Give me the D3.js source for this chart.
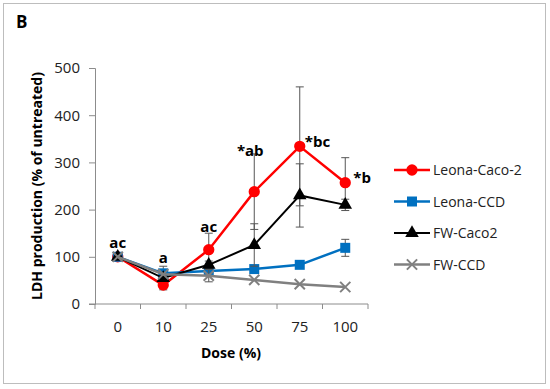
<!DOCTYPE html>
<html>
<head>
<meta charset="utf-8">
<script src="https://cdn.jsdelivr.net/npm/d3@7"></script>
<style>
  body { margin: 0; background: #fff; }
  text { font-family: "Open Sans", sans-serif; }
</style>
</head>
<body>
<svg width="550" height="389"></svg>
<script>
// categories and values
var doses = ['0', '10', '25', '50', '75', '100'];
var seriesNames = ['Leona-Caco-2', 'Leona-CCD', 'FW-Caco2', 'FW-CCD'];
var leonaCaco = [100, 40, 115, 238, 334, 257];
var leonaCacoErr = [0, 10, 35, 80, 126, 53];
var leonaCCD = [100, 65, 70, 74, 83, 119];
var leonaCCDErr = [0, 15, 0, 0, 5, 18];
var fwCaco = [100, 55, 83, 125, 230, 210];
var fwCacoErr = [0, 0, 8, 45, 67, 12];
var fwCCD = [100, 63, 60, 51, 42, 36];
var fwCCDErr = [0, 0, 13, 0, 0, 0];
var yTicks = [0, 100, 200, 300, 400, 500];
// significance letters above Leona-Caco-2
var letters = ['ac', 'a', 'ac', '*ab', '*bc', '*b'];

var svg = d3.select('svg');

svg.append('rect')
  .attr('x', 3.5).attr('y', 3.5)
  .attr('width', 542).attr('height', 380)
  .attr('fill', 'none')
  .attr('stroke', '#bdbdbd');

svg.append('text')
  .attr('x', 16).attr('y', 28)
  .attr('font-size', 17).attr('font-weight', 'bold')
  .text('B');

var x = d3.scaleBand().domain(doses).range([95, 368]);
var y = d3.scaleLinear().domain([0, 500]).range([304, 68]);
var cx = function(d) { return x(d) + x.bandwidth() / 2; };

// y axis
var yAxis = svg.append('g')
  .attr('transform', 'translate(95,0)')
  .call(d3.axisLeft(y).tickValues(yTicks).tickSize(6).tickPadding(9));
yAxis.select('.domain').attr('stroke', '#8c8c8c');
yAxis.selectAll('.tick line').attr('stroke', '#8c8c8c');
yAxis.selectAll('.tick text')
  .attr('font-size', 15)
  .attr('font-family', '"Open Sans", sans-serif')
  .attr('fill', '#222');

// x axis with ticks on category edges
svg.append('line')
  .attr('x1', 89).attr('x2', 368)
  .attr('y1', y(0)).attr('y2', y(0))
  .attr('stroke', '#8c8c8c');
var edges = doses.map(function(d) { return x(d); }).concat([x(doses[doses.length - 1]) + x.bandwidth()]);
svg.selectAll('.xtick').data(edges).enter().append('line')
  .attr('x1', function(d) { return d; }).attr('x2', function(d) { return d; })
  .attr('y1', y(0)).attr('y2', y(0) + 5)
  .attr('stroke', '#8c8c8c');
svg.selectAll('.xlab').data(doses).enter().append('text')
  .attr('x', cx).attr('y', 332)
  .attr('text-anchor', 'middle')
  .attr('font-size', 15).attr('fill', '#222')
  .text(function(d) { return d; });

svg.append('text')
  .attr('x', 231).attr('y', 358)
  .attr('text-anchor', 'middle')
  .attr('font-size', 14).attr('font-weight', 'bold')
  .text('Dose (%)');

svg.append('text')
  .attr('transform', 'translate(42,186) rotate(-90)')
  .attr('text-anchor', 'middle')
  .attr('font-size', 14).attr('font-weight', 'bold')
  .text('LDH production (% of untreated)');

var series = [
  { name: seriesNames[0], vals: leonaCaco, err: leonaCacoErr, color: '#ff0000', width: 2.5, marker: 'circle' },
  { name: seriesNames[1], vals: leonaCCD, err: leonaCCDErr, color: '#0070c0', width: 2.5, marker: 'square' },
  { name: seriesNames[2], vals: fwCaco, err: fwCacoErr, color: '#000000', width: 2, marker: 'triangle' },
  { name: seriesNames[3], vals: fwCCD, err: fwCCDErr, color: '#808080', width: 2.5, marker: 'cross' }
];

var symbols = {
  circle: d3.symbol().type(d3.symbolCircle).size(100),
  square: d3.symbol().type(d3.symbolSquare).size(100),
  triangle: d3.symbol().type(d3.symbolTriangle).size(80),
  cross: d3.symbol().type(d3.symbolX).size(70)
};

function drawMarker(g, s, px, py) {
  var p = g.append('path')
    .attr('d', symbols[s.marker]())
    .attr('transform', 'translate(' + px + ',' + py + ')');
  if (s.marker === 'cross') {
    p.attr('fill', 'none').attr('stroke', s.color).attr('stroke-width', 2);
  } else {
    p.attr('fill', s.color);
  }
}

var line = d3.line()
  .x(function(d) { return cx(d.dose); })
  .y(function(d) { return y(d.v); });

// series order as in the legend, later ones on top
series.forEach(function(s) {
  var pts = doses.map(function(d, i) { return { dose: d, v: s.vals[i], e: s.err[i] }; });
  var g = svg.append('g');
  // error bars
  pts.filter(function(p) { return p.e > 0; }).forEach(function(p) {
    var px = cx(p.dose);
    g.append('line')
      .attr('x1', px).attr('x2', px)
      .attr('y1', y(p.v - p.e)).attr('y2', y(p.v + p.e))
      .attr('stroke', '#555').attr('stroke-width', 1);
    [p.v - p.e, p.v + p.e].forEach(function(v) {
      g.append('line')
        .attr('x1', px - 4).attr('x2', px + 4)
        .attr('y1', y(v)).attr('y2', y(v))
        .attr('stroke', '#555').attr('stroke-width', 1);
    });
  });
  g.append('path')
    .datum(pts)
    .attr('d', line)
    .attr('fill', 'none')
    .attr('stroke', s.color)
    .attr('stroke-width', s.width);
  pts.forEach(function(p) { drawMarker(g, s, cx(p.dose), y(p.v)); });
});

// letters
var letterPos = [
  { dx: 0, v: 131, anchor: 'middle' },
  { dx: 0, v: 100, anchor: 'middle' },
  { dx: 0, v: 165, anchor: 'middle' },
  { dx: -4, v: 327, anchor: 'middle' },
  { dx: 5, v: 345, anchor: 'start' },
  { dx: 8, v: 269, anchor: 'start' }
];
svg.selectAll('.letter').data(letters).enter().append('text')
  .attr('x', function(d, i) { return cx(doses[i]) + letterPos[i].dx; })
  .attr('y', function(d, i) { return y(letterPos[i].v) + 6; })
  .attr('text-anchor', function(d, i) { return letterPos[i].anchor; })
  .attr('font-size', 15).attr('font-weight', 'bold')
  .text(function(d) { return d; });

// legend
var legend = svg.append('g');
series.forEach(function(s, i) {
  var ly = 170 + i * 31.5;
  legend.append('line')
    .attr('x1', 394).attr('x2', 430)
    .attr('y1', ly).attr('y2', ly)
    .attr('stroke', s.color).attr('stroke-width', s.width);
  drawMarker(legend, s, 412, ly);
  legend.append('text')
    .attr('x', 433).attr('y', ly + 5)
    .attr('font-size', 14).attr('fill', '#222')
    .text(s.name);
});
</script>
</body>
</html>
